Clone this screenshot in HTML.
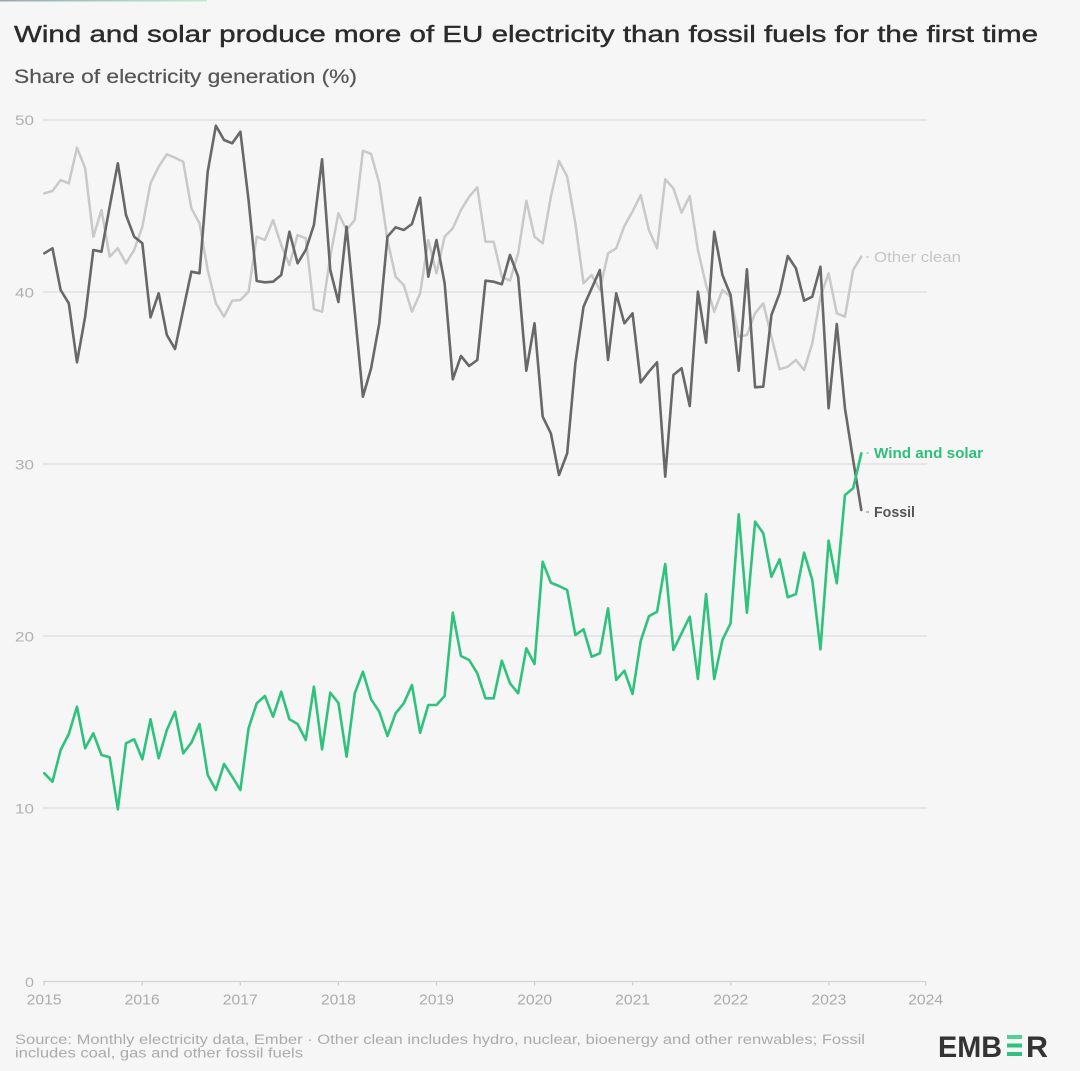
<!DOCTYPE html>
<html>
<head>
<meta charset="utf-8">
<style>
  html,body{margin:0;padding:0;background:#f6f6f6;}
  svg{display:block;}
  text{font-family:"Liberation Sans",Arial,sans-serif;}
</style>
</head>
<body>
<svg width="1080" height="1071" viewBox="0 0 1080 1071" xmlns="http://www.w3.org/2000/svg">
  <rect x="0" y="0" width="1080" height="1071" fill="#f6f6f6"/>
  <defs>
    <linearGradient id="topbar" x1="0" x2="1" y1="0" y2="0">
      <stop offset="0" stop-color="#9aa6b4"/>
      <stop offset="1" stop-color="#b9f0cf"/>
    </linearGradient>
  </defs>
  <rect x="0" y="0" width="207" height="1.5" fill="url(#topbar)"/>

  <!-- Title -->
  <text x="14" y="42" font-size="23" fill="#2b2b2b" stroke="#2b2b2b" stroke-width="0.4" textLength="1024" lengthAdjust="spacingAndGlyphs">Wind and solar produce more of EU electricity than fossil fuels for the first time</text>
  <text x="14" y="83" font-size="19" fill="#555555" stroke="#555555" stroke-width="0.2" textLength="343" lengthAdjust="spacingAndGlyphs">Share of electricity generation (%)</text>

  <!-- Gridlines -->
  <g stroke="#dcdcdc" stroke-width="1.2">
    <line x1="43" y1="120" x2="927" y2="120"/>
    <line x1="43" y1="292" x2="927" y2="292"/>
    <line x1="43" y1="464" x2="927" y2="464"/>
    <line x1="43" y1="636" x2="927" y2="636"/>
    <line x1="43" y1="808" x2="927" y2="808"/>
    <line x1="43" y1="981.5" x2="926" y2="981.5" stroke="#d4d4d4"/>
  </g>
  <!-- x ticks -->
  <g stroke="#cfcfcf" stroke-width="1.2">
    <line x1="44.1" y1="981.5" x2="44.1" y2="985.5"/>
    <line x1="142.2" y1="981.5" x2="142.2" y2="985.5"/>
    <line x1="240.3" y1="981.5" x2="240.3" y2="985.5"/>
    <line x1="338.4" y1="981.5" x2="338.4" y2="985.5"/>
    <line x1="436.5" y1="981.5" x2="436.5" y2="985.5"/>
    <line x1="534.6" y1="981.5" x2="534.6" y2="985.5"/>
    <line x1="632.7" y1="981.5" x2="632.7" y2="985.5"/>
    <line x1="730.8" y1="981.5" x2="730.8" y2="985.5"/>
    <line x1="828.9" y1="981.5" x2="828.9" y2="985.5"/>
    <line x1="925.7" y1="981.5" x2="925.7" y2="985.5"/>
  </g>

  <!-- Y labels -->
  <g font-size="14" fill="#b0b0b0" text-anchor="end">
    <text x="34" y="125" textLength="19" lengthAdjust="spacingAndGlyphs">50</text>
    <text x="34" y="297.5" textLength="19" lengthAdjust="spacingAndGlyphs">40</text>
    <text x="34" y="469.5" textLength="19" lengthAdjust="spacingAndGlyphs">30</text>
    <text x="34" y="641.5" textLength="19" lengthAdjust="spacingAndGlyphs">20</text>
    <text x="34" y="813.5" textLength="19" lengthAdjust="spacingAndGlyphs">10</text>
    <text x="34" y="987" textLength="9" lengthAdjust="spacingAndGlyphs">0</text>
  </g>

  <!-- X labels -->
  <g font-size="15" fill="#acacac" text-anchor="middle">
    <text x="44.1" y="1004.5" textLength="35" lengthAdjust="spacingAndGlyphs">2015</text>
    <text x="142.2" y="1004.5" textLength="35" lengthAdjust="spacingAndGlyphs">2016</text>
    <text x="240.3" y="1004.5" textLength="35" lengthAdjust="spacingAndGlyphs">2017</text>
    <text x="338.4" y="1004.5" textLength="35" lengthAdjust="spacingAndGlyphs">2018</text>
    <text x="436.5" y="1004.5" textLength="35" lengthAdjust="spacingAndGlyphs">2019</text>
    <text x="534.6" y="1004.5" textLength="35" lengthAdjust="spacingAndGlyphs">2020</text>
    <text x="632.7" y="1004.5" textLength="35" lengthAdjust="spacingAndGlyphs">2021</text>
    <text x="730.8" y="1004.5" textLength="35" lengthAdjust="spacingAndGlyphs">2022</text>
    <text x="828.9" y="1004.5" textLength="35" lengthAdjust="spacingAndGlyphs">2023</text>
    <text x="925.7" y="1004.5" textLength="35" lengthAdjust="spacingAndGlyphs">2024</text>
  </g>

  <!-- Series -->
  <g transform="translate(44.3,0) scale(8.17,1)" fill="none" stroke-linejoin="round" stroke-linecap="round">
    <!-- Other clean -->
    <polyline vector-effect="non-scaling-stroke" stroke="#c9c9c9" stroke-width="2.5" points="0,193.3 1,191 2,180 3,183.3 4,147.7 5,168.3 6,236.7 7,210 8,256.7 9,248.3 10,263.3 11,250 12,226.7 13,183.3 14,166.7 15,154.3 16,157.7 17,161.7 18,208.3 19,223.3 20,270 21,303.3 22,316.7 23,300.7 24,300 25,291.7 26,236.7 27,240 28,220 29,245 30,265 31,235 32,238.3 33,309.3 34,311.7 35,256.7 36,213.3 37,230 38,220 39,150.7 40,154 41,183.3 42,240 43,276.7 44,285 45,311.7 46,293.3 47,240 48,273.3 49,236.7 50,228.3 51,210 52,196.7 53,187.3 54,241.7 55,241.7 56,276.7 57,280.7 58,253.3 59,200.7 60,236.7 61,243.3 62,196.7 63,161 64,176.7 65,223.3 66,283.3 67,275 68,290 69,253.3 70,248.3 71,226 72,211.5 73,195 74,230 75,248.3 76,179.3 77,188.3 78,212.7 79,196 80,250 81,285 82,311.7 83,290 84,296.7 85,336.7 86,335 87,313.3 88,303.3 89,336.7 90,369.3 91,366.7 92,360 93,370 94,343.3 95,296.7 96,273.3 97,313.3 98,316.7 99,270 100,256.7"/>
    <!-- Fossil -->
    <polyline vector-effect="non-scaling-stroke" stroke="#686868" stroke-width="2.6" points="0,253.3 1,248.3 2,290 3,303.3 4,362.3 5,316.7 6,250 7,251.7 8,206.7 9,163.3 10,215 11,236.7 12,243.3 13,317.3 14,293.3 15,335 16,349 17,310 18,271.7 19,273.3 20,171.7 21,125.7 22,140 23,143.3 24,131.7 25,200 26,281 27,282.3 28,281.7 29,275 30,231.7 31,263.3 32,250 33,225 34,159.3 35,270 36,302 37,226.7 38,311.7 39,396.7 40,368.3 41,323.3 42,236.7 43,227.3 44,230 45,224 46,197.7 47,276.7 48,240 49,283.3 50,379.3 51,356 52,366 53,360 54,280.7 55,281.7 56,284.3 57,255 58,276.7 59,370.7 60,323.3 61,416.7 62,433.3 63,475 64,453.3 65,363.3 66,306.7 67,288.3 68,270 69,360 70,293.3 71,323.3 72,313.3 73,382.5 74,371.7 75,362.3 76,476.7 77,375 78,368.3 79,406 80,291.7 81,342.7 82,231.7 83,275 84,295 85,370.7 86,269.3 87,387.3 88,386.7 89,315 90,293.3 91,256 92,268.3 93,300.7 94,296.7 95,266.7 96,408.3 97,324 98,408.3 99,460 100,510"/>
    <!-- Wind and solar -->
    <polyline vector-effect="non-scaling-stroke" stroke="#2fc27c" stroke-width="2.6" points="0,773.3 1,781.7 2,750 3,734 4,706.7 5,748.3 6,733.3 7,755 8,757.3 9,809.3 10,743.3 11,739.3 12,759.3 13,719.3 14,758.3 15,730 16,711.7 17,753.3 18,742.7 19,724 20,775 21,790 22,764 23,776.7 24,790 25,728.3 26,703.3 27,696 28,716.7 29,691.7 30,719.3 31,724 32,740 33,686.7 34,749.3 35,692.7 36,703 37,756.7 38,693.3 39,671.7 40,699.3 41,711.7 42,736 43,713.3 44,703.3 45,685 46,732.7 47,705 48,705 49,696 50,612.7 51,656 52,660 53,673.3 54,698.3 55,698.3 56,660.7 57,683.3 58,693.3 59,648.3 60,664 61,561.7 62,582.7 63,586 64,590 65,635 66,629.3 67,656.7 68,653.3 69,608.3 70,680 71,670.7 72,694 73,641 74,616.3 75,611.7 76,564 77,650 78,633.3 79,616.7 80,679 81,594 82,679 83,640 84,623.3 85,514.3 86,612.7 87,521.7 88,533.3 89,576.7 90,559.3 91,597.3 92,594 93,552.7 94,580 95,649.3 96,540.7 97,583.3 98,495 99,488.3 100,453.3"/>
  </g>

  <!-- Series labels -->
  <g stroke-width="1.2">
    <line x1="866" y1="257" x2="869" y2="257" stroke="#cccccc"/>
    <line x1="866" y1="453" x2="869" y2="453" stroke="#7fd8aa"/>
    <line x1="866" y1="512" x2="869" y2="512" stroke="#9a9a9a"/>
  </g>
  <text x="874" y="262" font-size="14.5" fill="#c6c6c6" textLength="87" lengthAdjust="spacingAndGlyphs">Other clean</text>
  <text x="874" y="458" font-size="14.5" font-weight="bold" fill="#2fbf79" textLength="109" lengthAdjust="spacingAndGlyphs">Wind and solar</text>
  <text x="874" y="517" font-size="14.5" font-weight="bold" fill="#555555" textLength="41" lengthAdjust="spacingAndGlyphs">Fossil</text>

  <!-- Footer -->
  <g font-size="13.5" fill="#ababab">
    <text x="15" y="1044" textLength="850" lengthAdjust="spacingAndGlyphs">Source: Monthly electricity data, Ember · Other clean includes hydro, nuclear, bioenergy and other renwables; Fossil</text>
    <text x="15" y="1057.5" textLength="288" lengthAdjust="spacingAndGlyphs">includes coal, gas and other fossil fuels</text>
  </g>

  <!-- EMBER logo -->
  <text x="938" y="1057" font-size="30" font-weight="bold" fill="#333333" textLength="64" lengthAdjust="spacingAndGlyphs">EMB</text>
  <rect x="1007" y="1035" width="15" height="4" fill="#4fd394"/>
  <rect x="1007" y="1043.5" width="15" height="4" fill="#2ec27e"/>
  <rect x="1007" y="1052" width="15" height="4" fill="#2ec27e"/>
  <text x="1026" y="1057" font-size="30" font-weight="bold" fill="#333333" textLength="22" lengthAdjust="spacingAndGlyphs">R</text>
</svg>
</body>
</html>
